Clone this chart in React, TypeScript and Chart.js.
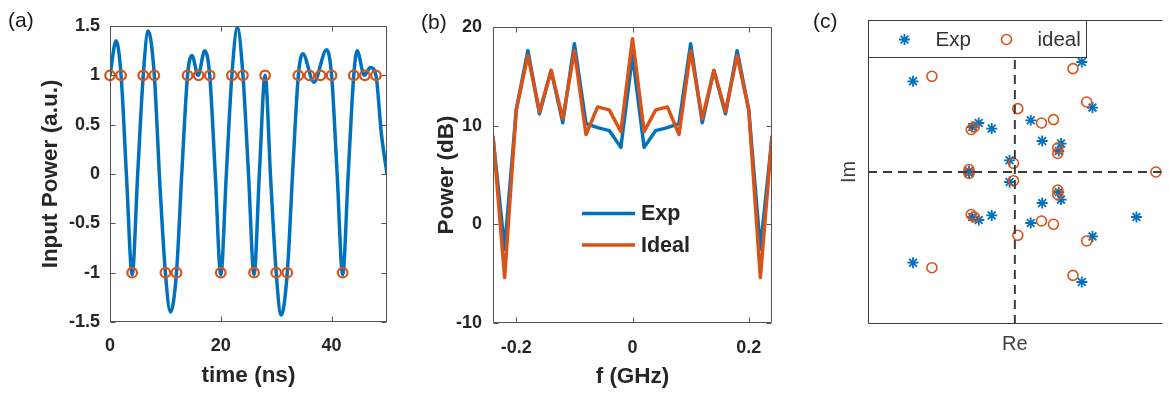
import React, { useEffect, useRef } from 'react';
import { Chart, registerables } from 'chart.js';

Chart.register(...registerables);

const FONT = "'Liberation Sans', Arial, Helvetica, sans-serif";
const BLUE = '#0072BD';
const ORANGE = '#D95319';
const AXIS_TEXT = '#262626';
const BOX = '#555555';

// ---------- (a) time domain ----------
const sampleTimes = [0, 2, 4, 6, 8, 10, 12, 14, 16, 18, 20, 22, 24, 26, 28, 30, 32, 34, 36, 38, 40, 42, 44, 46, 48];
const sampleValues = [1, 1, -1, 1, 1, -1, -1, 1, 1, 1, -1, 1, 1, -1, 1, -1, -1, 1, 1, 1, 1, -1, 1, 1, 1];
const waveTimes = [0, 1.1, 2, 3, 4, 5, 6, 6.9, 8, 9, 10, 10.9, 12, 13, 14, 14.8, 15.9, 17.1, 18, 19, 20, 21, 22, 23, 24, 25, 26, 27, 28, 29, 30, 30.9, 32, 33, 34, 34.8, 36.8, 39.1, 40, 41, 42, 43, 44, 44.6, 45.9, 47, 48, 49, 50];
const waveValues = [1.0, 1.35, 1.0, -0.05, -1.02, 0.0, 1.0, 1.45, 1.0, -0.1, -1.0, -1.4, -1.0, 0.05, 1.0, 1.2, 1.0, 1.25, 1.0, 0.0, -1.02, 0.0, 1.0, 1.48, 1.0, 0.0, -1.02, 0.05, 1.0, -0.05, -1.0, -1.43, -1.0, 0.05, 1.0, 1.22, 0.93, 1.26, 1.0, 0.0, -1.02, 0.0, 1.0, 1.25, 1.0, 1.08, 1.0, 0.4, 0.0];
const timeTicks = [0, 20, 40];
const inputTicks = [-1.5, -1, -0.5, 0, 0.5, 1, 1.5];

// ---------- (b) spectrum ----------
const freqs = [-0.24, -0.22, -0.2, -0.18, -0.16, -0.14, -0.12, -0.1, -0.08, -0.06, -0.04, -0.02, 0, 0.02, 0.04, 0.06, 0.08, 0.1, 0.12, 0.14, 0.16, 0.18, 0.2, 0.22, 0.24];
const expPower = [8.8, -2.5, 11.6, 17.6, 11.2, 15.6, 10.3, 18.3, 10.2, 9.8, 9.5, 7.8, 17.1, 7.8, 9.5, 9.8, 10.2, 18.3, 10.3, 15.6, 11.2, 17.6, 11.6, -2.5, 8.8];
const idealPower = [9.0, -5.4, 11.6, 17.1, 11.4, 15.6, 10.7, 17.6, 9.1, 11.9, 11.6, 9.4, 18.8, 9.4, 11.6, 11.9, 9.1, 17.6, 10.7, 15.6, 11.4, 17.1, 11.6, -5.4, 9.0];
const freqTicks = [-0.2, 0, 0.2];
const dbTicks = [-10, 0, 10, 20];

// ---------- (c) constellation ----------
const expRe = [-1.044, -1.044, 0.686, 0.686, 0.796, 0.796, -0.37, -0.37, -0.437, -0.437, -0.237, -0.237, 0.163, 0.163, 0.28, 0.28, 0.473, 0.473, 0.45, 0.45, -0.054, -0.054, -0.47, -0.47, 1.246];
const expIm = [0.907, -0.907, 1.1, -1.1, 0.644, -0.644, 0.49, -0.48, 0.45, -0.45, 0.434, -0.434, 0.517, -0.51, 0.31, -0.31, 0.284, -0.276, 0.21, -0.2, 0.117, -0.1, 0.01, -0.01, -0.45];
const idealRe = [-0.85, -0.85, 0.596, 0.596, 0.736, 0.736, 0.03, 0.03, 0.273, 0.273, 0.396, 0.396, -0.447, -0.447, -0.417, -0.417, 0.44, 0.44, 0.44, 0.44, -0.014, -0.014, -0.47, -0.47, 1.446];
const idealIm = [0.957, -0.957, 1.034, -1.034, 0.7, -0.69, 0.634, -0.633, 0.49, -0.49, 0.524, -0.523, 0.425, -0.425, 0.45, -0.45, 0.24, -0.225, 0.185, -0.18, 0.087, -0.087, 0.025, -0.015, 0];
const reRange = [-1.505, 1.505];
const imRange = [-1.52, 1.52];
const reZeroLine = [{ x: reRange[0], y: 0 }, { x: reRange[1], y: 0 }];
const imZeroLine = [{ x: 0, y: imRange[0] }, { x: 0, y: imRange[1] }];

const fmt = (v: number) => String(Number(Number(v).toFixed(3)));

const boxPlugin = {
  id: 'matlabBox',
  afterDatasetsDraw(chart: any, _args: any, opts: any) {
    const { ctx, chartArea } = chart;
    const { left, right, top, bottom } = chartArea;
    const L = Math.round(left) + 0.5;
    const R = Math.round(right) - 0.5;
    const T = Math.round(top) + 0.5;
    const B = Math.round(bottom) - 0.5;
    ctx.save();
    ctx.strokeStyle = opts.color || BOX;
    ctx.lineWidth = 1;
    ctx.beginPath();
    if (opts.right !== false) {
      ctx.moveTo(L, T); ctx.lineTo(R, T); ctx.lineTo(R, B); ctx.lineTo(L, B); ctx.closePath();
    } else {
      ctx.moveTo(R + 1, T); ctx.lineTo(L, T); ctx.lineTo(L, B); ctx.lineTo(R + 1, B);
    }
    if (opts.ticks) {
      const tl = 5;
      const xs = chart.scales.x;
      const ys = chart.scales.y;
      for (const t of xs.ticks) {
        const p = Math.round(xs.getPixelForValue(t.value)) + 0.5;
        ctx.moveTo(p, B); ctx.lineTo(p, B - tl);
        ctx.moveTo(p, T); ctx.lineTo(p, T + tl);
      }
      for (const t of ys.ticks) {
        const p = Math.round(ys.getPixelForValue(t.value)) + 0.5;
        ctx.moveTo(L, p); ctx.lineTo(L + tl, p);
        ctx.moveTo(R, p); ctx.lineTo(R - tl, p);
      }
    }
    ctx.stroke();
    ctx.restore();
  },
};

const legendBPlugin = {
  id: 'legendB',
  afterDraw(chart: any) {
    const { ctx } = chart;
    const a = chart.chartArea;
    const x0 = a.left + 89;
    const x1 = a.left + 142;
    const rows = [
      { y: a.top + 186.5, color: BLUE, label: 'Exp' },
      { y: a.top + 218, color: ORANGE, label: 'Ideal' },
    ];
    ctx.save();
    for (const r of rows) {
      ctx.strokeStyle = r.color;
      ctx.lineWidth = 3.5;
      ctx.beginPath(); ctx.moveTo(x0, r.y); ctx.lineTo(x1, r.y); ctx.stroke();
      ctx.fillStyle = AXIS_TEXT;
      ctx.font = `bold 21.5px ${FONT}`;
      ctx.textBaseline = 'middle';
      ctx.textAlign = 'left';
      ctx.fillText(r.label, x1 + 6, r.y + 1);
    }
    ctx.restore();
  },
};

const legendCPlugin = {
  id: 'legendC',
  afterDraw(chart: any) {
    const { ctx } = chart;
    const a = chart.chartArea;
    const bx = Math.round(a.left) + 0.5;
    const by = Math.round(a.top) + 0.5;
    const bw = 218;
    const bh = 37;
    ctx.save();
    ctx.fillStyle = '#ffffff';
    ctx.fillRect(bx, by, bw, bh);
    ctx.strokeStyle = '#3a3a3a';
    ctx.lineWidth = 1;
    ctx.strokeRect(bx, by, bw, bh);
    const cy = by + 19;
    const sx = bx + 36;
    const r = 5.5;
    ctx.strokeStyle = BLUE;
    ctx.lineWidth = 1.8;
    ctx.beginPath();
    for (let k = 0; k < 4; k++) {
      const ang = (k * Math.PI) / 4;
      ctx.moveTo(sx - r * Math.cos(ang), cy - r * Math.sin(ang));
      ctx.lineTo(sx + r * Math.cos(ang), cy + r * Math.sin(ang));
    }
    ctx.stroke();
    ctx.strokeStyle = ORANGE;
    ctx.lineWidth = 1.6;
    ctx.beginPath();
    ctx.arc(bx + 138, cy, 5, 0, Math.PI * 2);
    ctx.stroke();
    ctx.fillStyle = '#333333';
    ctx.font = `20.5px ${FONT}`;
    ctx.textBaseline = 'middle';
    ctx.textAlign = 'left';
    ctx.fillText('Exp', bx + 67, cy + 1);
    ctx.fillText('ideal', bx + 169, cy + 1);
    ctx.restore();
  },
};

function baseOptions(padding: any) {
  return {
    responsive: false,
    animation: false as const,
    devicePixelRatio: 1,
    layout: { padding },
  };
}

function configA(): any {
  return {
    type: 'scatter',
    data: {
      datasets: [
        {
          data: sampleTimes.map((t, i) => ({ x: t, y: sampleValues[i] })),
          showLine: false,
          clip: false,
          pointStyle: 'circle',
          pointRadius: 4.8,
          pointBorderWidth: 2.2,
          borderWidth: 2.2,
          pointBorderColor: ORANGE,
          borderColor: ORANGE,
          pointBackgroundColor: 'rgba(0,0,0,0)',
          backgroundColor: 'rgba(0,0,0,0)',
        },
        {
          data: waveTimes.map((t, i) => ({ x: t, y: waveValues[i] })),
          showLine: true,
          borderColor: BLUE,
          borderWidth: 3.5,
          borderJoinStyle: 'round',
          borderCapStyle: 'round',
          pointRadius: 0,
          cubicInterpolationMode: 'monotone',
        },
      ],
    },
    options: {
      ...baseOptions({ left: 0, right: 13, top: 26, bottom: 0 }),
      plugins: {
        legend: { display: false },
        tooltip: { enabled: false },
        matlabBox: { ticks: true },
      },
      scales: {
        x: {
          type: 'linear', min: 0, max: 50,
          afterBuildTicks: (s: any) => { s.ticks = timeTicks.map((v) => ({ value: v })); },
          afterFit: (s: any) => { s.height = 72; },
          grid: { display: false, drawTicks: false },
          border: { display: false },
          ticks: { font: { family: FONT, size: 18, weight: 'bold' }, color: AXIS_TEXT, padding: 13, autoSkip: false, maxRotation: 0, callback: (v: any) => fmt(v) },
          title: { display: true, text: 'time (ns)', font: { family: FONT, size: 22.5, weight: 'bold' }, color: AXIS_TEXT, padding: { top: 0, bottom: 5 } },
        },
        y: {
          type: 'linear', min: -1.5, max: 1.5,
          afterBuildTicks: (s: any) => { s.ticks = inputTicks.map((v) => ({ value: v })); },
          afterFit: (s: any) => { s.width = 110; },
          grid: { display: false, drawTicks: false },
          border: { display: false },
          ticks: { font: { family: FONT, size: 18, weight: 'bold' }, color: AXIS_TEXT, padding: 10, autoSkip: false, callback: (v: any) => fmt(v) },
          title: { display: true, text: 'Input Power (a.u.)', font: { family: FONT, size: 22.5, weight: 'bold' }, color: AXIS_TEXT, padding: { top: 37, bottom: 0 } },
        },
      },
    },
    plugins: [boxPlugin],
  };
}

function configB(): any {
  return {
    type: 'scatter',
    data: {
      datasets: [
        {
          label: 'Ideal',
          data: freqs.map((f, i) => ({ x: f, y: idealPower[i] })),
          showLine: true, borderColor: ORANGE, borderWidth: 3.5, borderJoinStyle: 'round', pointRadius: 0, tension: 0,
        },
        {
          label: 'Exp',
          data: freqs.map((f, i) => ({ x: f, y: expPower[i] })),
          showLine: true, borderColor: BLUE, borderWidth: 3.5, borderJoinStyle: 'round', pointRadius: 0, tension: 0,
        },
      ],
    },
    options: {
      ...baseOptions({ left: 0, right: 28, top: 27, bottom: 0 }),
      plugins: {
        legend: { display: false },
        tooltip: { enabled: false },
        matlabBox: { ticks: true },
      },
      scales: {
        x: {
          type: 'linear', min: -0.24, max: 0.24,
          afterBuildTicks: (s: any) => { s.ticks = freqTicks.map((v) => ({ value: v })); },
          afterFit: (s: any) => { s.height = 71; },
          grid: { display: false, drawTicks: false },
          border: { display: false },
          ticks: { font: { family: FONT, size: 18, weight: 'bold' }, color: AXIS_TEXT, padding: 14, autoSkip: false, maxRotation: 0, callback: (v: any) => fmt(v) },
          title: { display: true, text: 'f (GHz)', font: { family: FONT, size: 22.5, weight: 'bold' }, color: AXIS_TEXT, padding: { top: 0, bottom: 4 } },
        },
        y: {
          type: 'linear', min: -10, max: 20,
          afterBuildTicks: (s: any) => { s.ticks = dbTicks.map((v) => ({ value: v })); },
          afterFit: (s: any) => { s.width = 93; },
          grid: { display: false, drawTicks: false },
          border: { display: false },
          ticks: { font: { family: FONT, size: 18, weight: 'bold' }, color: AXIS_TEXT, padding: 11, autoSkip: false, callback: (v: any) => fmt(v) },
          title: { display: true, text: 'Power (dB)', font: { family: FONT, size: 22.5, weight: 'bold' }, color: AXIS_TEXT, padding: { top: 33, bottom: 0 } },
        },
      },
    },
    plugins: [boxPlugin, legendBPlugin],
  };
}

function configC(): any {
  return {
    type: 'scatter',
    data: {
      datasets: [
        {
          data: reZeroLine, showLine: true, borderColor: '#3c3c3c', borderWidth: 2, borderDash: [9, 6], pointRadius: 0,
        },
        {
          data: imZeroLine, showLine: true, borderColor: '#3c3c3c', borderWidth: 2, borderDash: [9, 6], pointRadius: 0,
        },
        {
          label: 'ideal',
          data: idealRe.map((x, i) => ({ x, y: idealIm[i] })),
          showLine: false, clip: false, pointStyle: 'circle', pointRadius: 5, pointBorderWidth: 1.6, borderWidth: 1.6,
          pointBorderColor: ORANGE, borderColor: ORANGE, pointBackgroundColor: 'rgba(0,0,0,0)', backgroundColor: 'rgba(0,0,0,0)',
        },
        {
          label: 'Exp',
          data: expRe.map((x, i) => ({ x, y: expIm[i] })),
          showLine: false, clip: false, pointStyle: 'star', pointRadius: 5.5, pointBorderWidth: 1.8, borderWidth: 1.8,
          pointBorderColor: BLUE, borderColor: BLUE, pointBackgroundColor: BLUE, backgroundColor: BLUE,
        },
      ],
    },
    options: {
      ...baseOptions({ left: 0, right: 0, top: 20, bottom: 0 }),
      plugins: {
        legend: { display: false },
        tooltip: { enabled: false },
        matlabBox: { ticks: false, right: false, color: '#3a3a3a' },
      },
      scales: {
        x: {
          type: 'linear', min: reRange[0], max: reRange[1],
          afterFit: (s: any) => { s.height = 70; },
          grid: { display: false, drawTicks: false },
          border: { display: false },
          ticks: { display: false },
          title: { display: true, text: 'Re', font: { family: FONT, size: 20 }, color: '#404040', padding: { top: 0, bottom: 38 } },
        },
        y: {
          type: 'linear', min: imRange[0], max: imRange[1],
          afterFit: (s: any) => { s.width = 68; },
          grid: { display: false, drawTicks: false },
          border: { display: false },
          ticks: { display: false },
          title: { display: true, text: 'Im', font: { family: FONT, size: 20 }, color: '#404040', padding: { top: 37, bottom: 0 } },
        },
      },
    },
    plugins: [boxPlugin, legendCPlugin],
  };
}

const panelLabel: React.CSSProperties = {
  position: 'absolute',
  fontFamily: FONT,
  fontSize: 21,
  lineHeight: '21px',
  color: '#1a1a1a',
  whiteSpace: 'nowrap',
};

export default function App() {
  const aRef = useRef<HTMLCanvasElement>(null);
  const bRef = useRef<HTMLCanvasElement>(null);
  const cRef = useRef<HTMLCanvasElement>(null);

  useEffect(() => {
    const charts = [
      new Chart(aRef.current as HTMLCanvasElement, configA()),
      new Chart(bRef.current as HTMLCanvasElement, configB()),
      new Chart(cRef.current as HTMLCanvasElement, configC()),
    ];
    return () => charts.forEach((c) => c.destroy());
  }, []);

  return (
    <div style={{ position: 'absolute', left: 0, top: 0, width: 1169, height: 394, background: '#ffffff', overflow: 'hidden' }}>
      <canvas ref={aRef} width={400} height={394} style={{ position: 'absolute', left: 0, top: 0, width: 400, height: 394 }} />
      <canvas ref={bRef} width={400} height={394} style={{ position: 'absolute', left: 400, top: 0, width: 400, height: 394 }} />
      <canvas ref={cRef} width={369} height={394} style={{ position: 'absolute', left: 800, top: 0, width: 369, height: 394 }} />
      <div style={{ ...panelLabel, left: 8, top: 9 }}>(a)</div>
      <div style={{ ...panelLabel, left: 421, top: 11 }}>(b)</div>
      <div style={{ ...panelLabel, left: 813, top: 10 }}>(c)</div>
    </div>
  );
}
